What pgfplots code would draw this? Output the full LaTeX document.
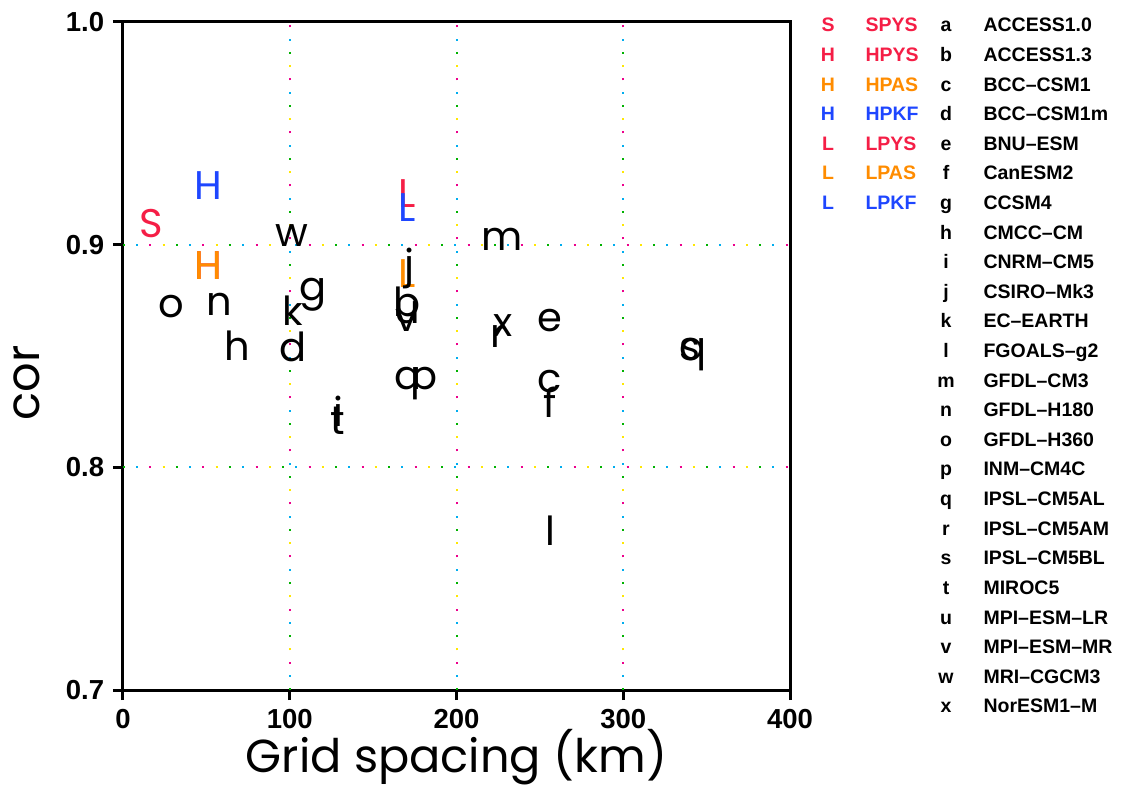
\documentclass[border=0pt]{standalone}
\usepackage{pgfplots}
\pgfplotsset{compat=1.18}
\usepackage{pgfplotstable}
\usepackage{fontspec}
\setmainfont{Liberation Sans}
\newfontfamily\pop{Poppins}
\definecolor{myred}{RGB}{245,30,70}
\definecolor{myorange}{RGB}{255,140,0}
\definecolor{myblue}{RGB}{30,70,255}

% model letters: x-height centre of each letter
\pgfplotstableread{
x y lab
170.9 0.8397 a
170.3 0.8725 b
256.1 0.8383 c
101.9 0.8522 d
256.1 0.8657 e
256.1 0.8271 f
113.9 0.8796 g
68.4 0.8529 h
128.9 0.8231 i
171.5 0.8895 j
101.9 0.8686 k
256.1 0.7698 l
227.3 0.9021 m
57.6 0.8729 n
28.8 0.8720 o
180.5 0.8397 p
341.8 0.8527 q
224.9 0.8585 r
340.0 0.8527 s
128.9 0.8195 t
170.3 0.8693 u
170.3 0.8657 v
101.3 0.9039 w
227.9 0.8635 x
}\models

\pgfplotstableread{
x y lab
16.8 0.908 S
51.0 0.889 H
170.3 0.9216 L
}\redset
\pgfplotstableread{
x y lab
51.0 0.889 H
170.3 0.8857 L
}\orangeset
\pgfplotstableread{
x y lab
51.0 0.925 H
170.3 0.9149 L
}\blueset

\begin{document}
\begin{tikzpicture}
\useasboundingbox (-49.2pt,-39.6pt) rectangle (402.4pt,276pt);
\begin{axis}[
  at={(0,0)}, anchor=south west,
  scale only axis, width=266.8pt, height=267.2pt,
  xmin=0, xmax=400, ymin=0.7, ymax=1.0,
  xtick={0,100,200,300,400}, xticklabels={0,100,200,300,400},
  ytick={0.7,0.8,0.9,1.0}, yticklabels={0.7,0.8,0.9,1.0},
  xtick pos=bottom, ytick pos=left,
  tick align=outside, major tick length=4pt,
  axis line style={line width=1.2pt},
  every tick/.style={black, line width=1.2pt},
  /pgf/number format/assume math mode=true,
  ticklabel style={font=\bfseries\fontsize{11}{11}\selectfont},
  xlabel={Grid spacing (km)},
  ylabel={cor},
  xlabel style={font=\pop\fontsize{18.5}{18.5}\selectfont, at={(axis description cs:0.5,-0.1)}, anchor=center},
  ylabel style={font=\pop\fontsize{18.5}{18.5}\selectfont, at={(axis description cs:-0.144,0.46)}, anchor=center, rotate=0},
  clip=false,
  nodes near coords, point meta=explicit symbolic,
  nodes near coords style={anchor=base, yshift=-4.2pt, inner sep=0pt, font=\pop\fontsize{16}{16}\selectfont},
]
% dotted grid, several colours
\foreach \c/\ph in {green!70!black/0, yellow!90!orange/5.3, magenta/10.6, cyan/15.9}{
  \edef\tmp{\noexpand\draw[\c, line width=0.8pt, dash pattern=on 0.8pt off 20.4pt, dash phase=\ph pt]
    (axis cs:100,0.7) -- (axis cs:100,1.0)
    (axis cs:200,0.7) -- (axis cs:200,1.0)
    (axis cs:300,0.7) -- (axis cs:300,1.0)
    (axis cs:0,0.8) -- (axis cs:400,0.8)
    (axis cs:0,0.9) -- (axis cs:400,0.9);}
  \tmp
}
\addplot[only marks, mark=none, nodes near coords style={text=myred}] table[meta=lab] {\redset};
\addplot[only marks, mark=none, nodes near coords style={text=myorange}] table[meta=lab] {\orangeset};
\addplot[only marks, mark=none, nodes near coords style={text=myblue}] table[meta=lab] {\blueset};
\addplot[only marks, mark=none, nodes near coords style={text=black}] table[meta=lab] {\models};
\end{axis}

% legend
\begin{scope}[every node/.style={inner sep=0pt, font=\bfseries\fontsize{7.8}{7.8}\selectfont}]
\foreach \l/\n/\c [count=\i from 0] in {S/SPYS/myred, H/HPYS/myred, H/HPAS/myorange, H/HPKF/myblue, L/LPYS/myred, L/LPAS/myorange, L/LPKF/myblue}{
  \node[anchor=base, text=\c] at (282pt,{266pt-11.84pt*\i-2.8pt}) {\l};
  \node[anchor=base west, text=\c] at (296.8pt,{266pt-11.84pt*\i-2.8pt}) {\n};
}
\foreach \l/\n [count=\i from 0] in {a/ACCESS1.0, b/ACCESS1.3, c/BCC--CSM1, d/BCC--CSM1m, e/BNU--ESM, f/CanESM2, g/CCSM4, h/CMCC--CM, i/CNRM--CM5, j/CSIRO--Mk3, k/EC--EARTH, l/FGOALS--g2, m/GFDL--CM3, n/GFDL--H180, o/GFDL--H360, p/INM--CM4C, q/IPSL--CM5AL, r/IPSL--CM5AM, s/IPSL--CM5BL, t/MIROC5, u/MPI--ESM--LR, v/MPI--ESM--MR, w/MRI--CGCM3, x/NorESM1--M}{
  \node[anchor=base] at (329.2pt,{266pt-11.84pt*\i-2.8pt}) {\l};
  \node[anchor=base west] at (344pt,{266pt-11.84pt*\i-2.8pt}) {\n};
}
\end{scope}
\end{tikzpicture}
\end{document}
